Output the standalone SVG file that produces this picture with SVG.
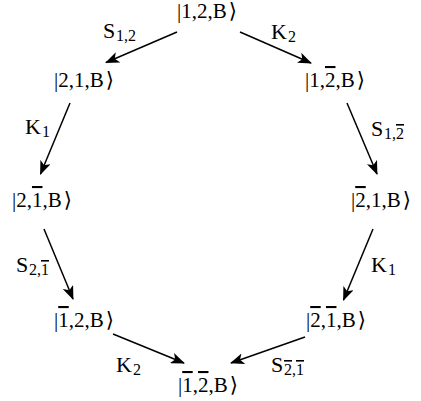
<svg xmlns="http://www.w3.org/2000/svg" width="421" height="401" viewBox="0 0 421 401">
<style>
text{font-family:"Liberation Serif","DejaVu Serif",serif;font-size:21px;fill:#000}
.lb{font-size:22px}
.sub{font-size:16px}
.ob{text-decoration:overline}
.c line{stroke:#000;stroke-width:1.5;fill:none;marker-end:url(#ah)}
</style>
<defs>
<marker id="ah" viewBox="0 0 14 11" refX="13" refY="5.5" markerWidth="14" markerHeight="11" markerUnits="userSpaceOnUse" orient="auto">
<path d="M14,5.5 L0,0 L3.5,5.5 L0,11 Z" fill="#000"/>
</marker>
</defs>
<rect width="421" height="401" fill="#fff"/>
<g class="c" id="connectors">
<line x1="177" y1="32" x2="106" y2="62.5"/>
<line x1="240" y1="32" x2="311" y2="63"/>
<line x1="70" y1="103" x2="40.5" y2="174"/>
<line x1="347" y1="103" x2="377" y2="174"/>
<line x1="44" y1="229" x2="73" y2="299"/>
<line x1="373" y1="229" x2="343.5" y2="300"/>
<line x1="113" y1="334" x2="184" y2="363"/>
<line x1="305" y1="337" x2="231" y2="363"/>
</g>
<g id="n1"><text x="177" y="18">|1,2,B<tspan dx="2">⟩</tspan></text></g>
<g id="n2"><text x="54" y="87">|2,1,B<tspan dx="2">⟩</tspan></text></g>
<g id="n3"><text x="305" y="87">|1,<tspan class="ob">2</tspan>,B<tspan dx="2">⟩</tspan></text></g>
<g id="n4"><text x="12" y="207">|2,<tspan class="ob">1</tspan>,B<tspan dx="2">⟩</tspan></text></g>
<g id="n5"><text x="351" y="207">|<tspan class="ob">2</tspan>,1,B<tspan dx="2">⟩</tspan></text></g>
<g id="n6"><text x="54" y="327">|<tspan class="ob">1</tspan>,2,B<tspan dx="2">⟩</tspan></text></g>
<g id="n7"><text x="306" y="327">|<tspan class="ob">2</tspan>,<tspan class="ob">1</tspan>,B<tspan dx="2">⟩</tspan></text></g>
<g id="n8"><text x="178" y="392">|<tspan class="ob">1</tspan>,<tspan class="ob">2</tspan>,B<tspan dx="2">⟩</tspan></text></g>
<g id="labels">
<text class="lb" x="103" y="38">S<tspan class="sub" x="116" y="41">1,2</tspan></text>
<text class="lb" x="271" y="39">K<tspan class="sub" x="288" y="42">2</tspan></text>
<text class="lb" x="25" y="134">K<tspan class="sub" x="42" y="137">1</tspan></text>
<text class="lb" x="371" y="136">S<tspan class="sub" x="384" y="139">1,<tspan class="ob">2</tspan></tspan></text>
<text class="lb" x="16" y="272">S<tspan class="sub" x="29" y="275">2,<tspan class="ob">1</tspan></tspan></text>
<text class="lb" x="371" y="272">K<tspan class="sub" x="388" y="275">1</tspan></text>
<text class="lb" x="116" y="372">K<tspan class="sub" x="133" y="375">2</tspan></text>
<text class="lb" x="271" y="372">S<tspan class="sub" x="284" y="375"><tspan class="ob">2</tspan>,<tspan class="ob">1</tspan></tspan></text>
</g>
</svg>
